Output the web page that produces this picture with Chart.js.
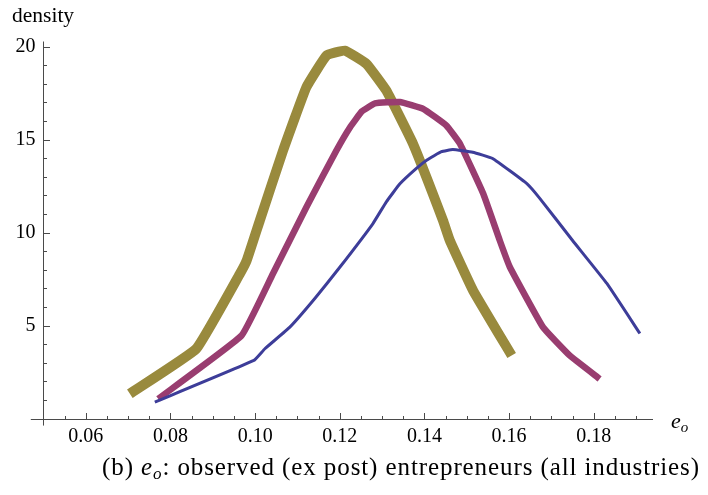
<!DOCTYPE html>
<html>
<head>
<meta charset="utf-8">
<script src="https://cdn.jsdelivr.net/npm/chart.js@4.4.0/dist/chart.umd.min.js"></script>
<style>
  html, body { margin: 0; padding: 0; background: #fff; }
  #wrap { position: relative; width: 708px; height: 495px; overflow: hidden; }
  #c { position: absolute; left: 0; top: 0; }
  .lbl { position: absolute; font-family: "Liberation Serif", "Times New Roman", serif; color: #000; white-space: nowrap; line-height: 1; }
  .lbl sub { font-size: 68%; vertical-align: -0.25em; line-height: 0; }
</style>
</head>
<body>
<div id="wrap">
  <canvas id="c" width="708" height="495"></canvas>
  <div class="lbl" id="ylab" style="left:12px; top:5px; font-size:21.5px;">density</div>
  <div class="lbl" id="xlab" style="left:671px; top:410px; font-size:22px;"><i>e</i><sub><i>o</i></sub></div>
  <div class="lbl" id="cap" style="left:102px; top:454px; font-size:25px;">(b) <i>e</i><sub><i>o</i></sub>: observed (ex post) entrepreneurs (all industries)</div>
</div>
<script>
// Density of e_o for three groups, sampled along e_o
const blueX = [0.0763, 0.0997, 0.1023, 0.1082, 0.1141, 0.1200, 0.1278, 0.1310, 0.1342, 0.1381, 0.1406, 0.1440, 0.1467, 0.1514, 0.1561, 0.1642, 0.1672, 0.1750, 0.1831, 0.1909];
const blueY = [0.88, 3.12, 3.75, 4.91, 6.45, 8.13, 10.47, 11.65, 12.62, 13.45, 13.90, 14.35, 14.46, 14.32, 13.98, 12.63, 11.85, 9.57, 7.26, 4.57];

const magentaX = [0.0771, 0.0968, 0.1042, 0.1121, 0.1192, 0.1224, 0.1252, 0.1283, 0.1342, 0.1397, 0.1452, 0.1484, 0.1539, 0.1578, 0.1602, 0.1680, 0.1743, 0.1814];
const magentaY = [1.06, 4.46, 7.78, 11.36, 14.41, 15.65, 16.51, 16.94, 17.02, 16.65, 15.75, 14.77, 12.08, 9.57, 8.13, 4.91, 3.39, 2.13];

const oliveX = [0.0704, 0.0861, 0.0964, 0.0980, 0.1011, 0.1066, 0.1121, 0.1169, 0.1212, 0.1263, 0.1310, 0.1373, 0.1444, 0.1460, 0.1515, 0.1606];
const oliveY = [1.33, 3.75, 7.78, 8.49, 10.64, 14.41, 17.81, 19.52, 19.78, 19.07, 17.63, 14.77, 10.64, 9.57, 6.88, 3.39];

// Axis ticks
const xMajorTicks = [0.06, 0.08, 0.10, 0.12, 0.14, 0.16, 0.18];
const xMinorTicks = [0.055, 0.065, 0.07, 0.075, 0.085, 0.09, 0.095, 0.105, 0.11, 0.115, 0.125, 0.13, 0.135, 0.145, 0.15, 0.155, 0.165, 0.17, 0.175, 0.185, 0.19];
const yMajorTicks = [5, 10, 15, 20];
const yMinorTicks = [1, 2, 3, 4, 6, 7, 8, 9, 11, 12, 13, 14, 16, 17, 18, 19];

// Axis ranges (axes cross at e_o = 0.05, density = 0)
const xMin = 0.05, xMax = 0.194, xAxisStart = 0.047;
const yMin = 0, yMax = 20.27, yAxisEnd = -0.38;

const toPoints = (xs, ys) => xs.map((x, i) => ({ x: x, y: ys[i] }));

const AXIS_COLOR = '#4a4a4a';
const MAJOR_LEN = 6.5, MINOR_LEN = 3.5;

// Mathematica-style axes: lines crossing at the origin, ticks pointing inward
const axesPlugin = {
  id: 'crossAxes',
  beforeDatasetsDraw(chart) {
    const { ctx, chartArea } = chart;
    const xs = chart.scales.x, ys = chart.scales.y;
    const x0 = Math.round(xs.getPixelForValue(0.05)) - 0.5;
    const y0 = Math.round(ys.getPixelForValue(0)) + 0.5;
    ctx.save();
    ctx.strokeStyle = AXIS_COLOR;
    ctx.lineWidth = 1;
    ctx.beginPath();
    ctx.moveTo(xs.getPixelForValue(xAxisStart), y0);
    ctx.lineTo(chartArea.right, y0);
    ctx.moveTo(x0, chartArea.top);
    ctx.lineTo(x0, ys.getPixelForValue(yAxisEnd));
    const xt = (v, len) => {
      const p = Math.round(xs.getPixelForValue(v)) + 0.5;
      ctx.moveTo(p, y0);
      ctx.lineTo(p, y0 - len);
    };
    const yt = (v, len) => {
      const p = Math.round(ys.getPixelForValue(v)) + 0.5;
      ctx.moveTo(x0, p);
      ctx.lineTo(x0 + len, p);
    };
    xMajorTicks.forEach(v => xt(v, MAJOR_LEN));
    xMinorTicks.forEach(v => xt(v, MINOR_LEN));
    yMajorTicks.forEach(v => yt(v, MAJOR_LEN));
    yMinorTicks.forEach(v => yt(v, MINOR_LEN));
    ctx.stroke();
    ctx.restore();
  }
};

const tickFont = { family: '"Liberation Serif", "Times New Roman", serif', size: 20 };

new Chart(document.getElementById('c'), {
  type: 'line',
  data: {
    datasets: [
      { data: toPoints(blueX, blueY), borderColor: '#3d3d99', borderWidth: 3 },
      { data: toPoints(magentaX, magentaY), borderColor: '#993d70', borderWidth: 6.5 },
      { data: toPoints(oliveX, oliveY), borderColor: '#998a3d', borderWidth: 10 }
    ]
  },
  options: {
    responsive: false,
    animation: false,
    devicePixelRatio: 1,
    layout: { padding: { left: 0, right: 55, top: 41.5, bottom: 0 } },
    elements: {
      point: { radius: 0 },
      line: { tension: 0.1, fill: false, borderCapStyle: 'butt', borderJoinStyle: 'round' }
    },
    plugins: { legend: { display: false }, tooltip: { enabled: false } },
    scales: {
      x: {
        type: 'linear', min: xMin, max: xMax, position: 'bottom',
        grid: { display: false, drawTicks: false },
        border: { display: false },
        afterFit: s => { s.height = 76.5; },
        afterBuildTicks: s => { s.ticks = xMajorTicks.map(v => ({ value: v })); },
        ticks: {
          padding: 6, color: '#000', font: tickFont, maxRotation: 0, autoSkip: false,
          callback: v => v.toFixed(2)
        }
      },
      y: {
        type: 'linear', min: yMin, max: yMax, position: 'left',
        grid: { display: false, drawTicks: false },
        border: { display: false },
        afterFit: s => { s.width = 43.5; },
        afterBuildTicks: s => { s.ticks = yMajorTicks.map(v => ({ value: v })); },
        ticks: {
          padding: 8, color: '#000', font: tickFont, autoSkip: false,
          callback: v => String(v)
        }
      }
    }
  },
  plugins: [axesPlugin]
});

// Spread the caption across its line
(function () {
  const cap = document.getElementById('cap');
  const target = 598;
  const w = cap.getBoundingClientRect().width;
  const n = cap.textContent.length;
  cap.style.letterSpacing = ((target - w) / n).toFixed(3) + 'px';
})();
</script>
</body>
</html>
